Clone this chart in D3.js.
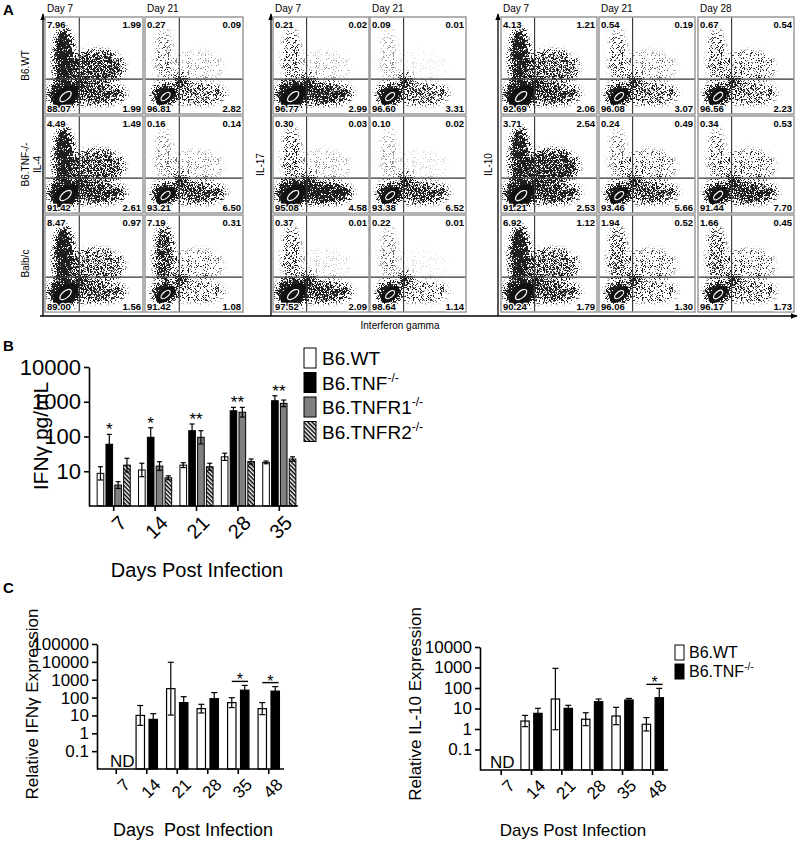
<!DOCTYPE html>
<html>
<head>
<meta charset="utf-8">
<script src="https://cdn.jsdelivr.net/npm/d3@7"></script>
<style>
body { margin: 0; background: #fff; }
text { font-family: Arial, "Liberation Sans", sans-serif; }
</style>
</head>
<body>
<script>
// ---------- data ----------
// panel A: flow plots, quadrant % as [UL, UR, LL, LR], rows = strains, cols = days
var strains = ["B6.WT", "B6.TNF-/-", "Balb/c"];
var il4Days = ["Day 7", "Day 21"];
var il17Days = ["Day 7", "Day 21"];
var il10Days = ["Day 7", "Day 21", "Day 28"];
var il4Quads = [
  [[7.96, 1.99, 88.07, 1.99], [0.27, 0.09, 96.81, 2.82]],
  [[4.49, 1.49, 91.42, 2.61], [0.16, 0.14, 93.21, 6.50]],
  [[8.47, 0.97, 89.00, 1.56], [7.19, 0.31, 91.42, 1.08]]
];
var il17Quads = [
  [[0.21, 0.02, 96.77, 2.99], [0.09, 0.01, 96.60, 3.31]],
  [[0.30, 0.03, 95.08, 4.58], [0.10, 0.02, 93.38, 6.52]],
  [[0.37, 0.01, 97.52, 2.09], [0.22, 0.01, 98.64, 1.14]]
];
var il10Quads = [
  [[4.13, 1.21, 92.69, 2.06], [0.54, 0.19, 96.08, 3.07], [0.67, 0.54, 96.56, 2.23]],
  [[3.71, 2.54, 91.21, 2.53], [0.24, 0.49, 93.46, 5.66], [0.34, 0.53, 91.44, 7.70]],
  [[6.92, 1.12, 90.24, 1.79], [1.94, 0.52, 96.06, 1.30], [1.66, 0.45, 96.17, 1.73]]
];
// how many events each day's plots show, relative to day 7
var dayEvents = {"Day 7": 1, "Day 21": 0.3, "Day 28": 0.35};

// panel B: IFNg pg/mL
var daysB = ["7", "14", "21", "28", "35"];
var seriesB = ["B6.WT", "B6.TNF", "B6.TNFR1", "B6.TNFR2"];
var ifngWT = [8.7, 10.9, 15, 26, 18];
var ifngWTErr = [13.5, 17, 17.6, 33, 19.7];
var ifngTNF = [60, 95, 147, 550, 1070];
var ifngTNFErr = [115, 179, 229, 690, 1490];
var ifngTNFR1 = [4.0, 14.1, 95, 500, 900];
var ifngTNFR1Err = [5, 18.8, 147, 690, 1120];
var ifngTNFR2 = [15, 6.5, 13.5, 19, 22.5];
var ifngTNFR2Err = [23.6, 7.4, 17, 22.5, 26];
var sigB = ["*", "*", "**", "**", "**"];

// panel C: relative expression (day 7 not detected)
var daysC = ["7", "14", "21", "28", "35", "48"];
var seriesC = ["B6.WT", "B6.TNF"];
var relIfngWT = [null, 10, 316, 24, 52, 24];
var relIfngWTErr = [null, 36, 9500, 42, 98, 52];
var relIfngTNF = [null, 6, 52, 87, 260, 230];
var relIfngTNFErr = [null, 12.6, 112, 190, 480, 410];
var sigIfng = ["", "", "", "", "*", "*"];
var relIl10WT = [null, 2.45, 29, 3, 4.3, 1.7];
var relIl10WTErr = [null, 4.6, 910, 6.2, 11.4, 3.6];
var relIl10TNF = [null, 5.8, 10.2, 21.5, 26, 33.7];
var relIl10TNFErr = [null, 10.2, 14.3, 29, 31, 96];
var sigIl10 = ["", "", "", "", "", "*"];

// ---------- svg ----------
var W = 800, H = 843;
var svg = d3.select("body").append("svg").attr("width", W).attr("height", H);
var defs = svg.append("defs");

defs.append("marker").attr("id", "arr")
  .attr("viewBox", "0 0 10 10").attr("refX", 9).attr("refY", 5)
  .attr("markerUnits", "userSpaceOnUse").attr("markerWidth", 7).attr("markerHeight", 7)
  .attr("orient", "auto")
  .append("path").attr("d", "M0,1L10,5L0,9z").attr("fill", "#000");

var hatch = defs.append("pattern").attr("id", "hatch")
  .attr("patternUnits", "userSpaceOnUse").attr("width", 3).attr("height", 3)
  .attr("patternTransform", "rotate(45)");
hatch.append("rect").attr("width", 3).attr("height", 3).attr("fill", "#fff");
hatch.append("rect").attr("width", 3).attr("height", 1.5).attr("fill", "#000");

// speckle filter: blurred shapes turn into fine dot clouds
var f = defs.append("filter").attr("id", "speck").attr("filterUnits", "userSpaceOnUse")
  .attr("x", -10).attr("y", -10).attr("width", 120).attr("height", 120)
  .attr("color-interpolation-filters", "sRGB");
f.append("feGaussianBlur").attr("in", "SourceGraphic").attr("stdDeviation", 3).attr("result", "blur");
f.append("feTurbulence").attr("type", "fractalNoise").attr("baseFrequency", 1.6)
  .attr("numOctaves", 1).attr("seed", 11).attr("result", "noise");
f.append("feColorMatrix").attr("in", "noise").attr("type", "matrix")
  .attr("values", "0 0 0 0 0  0 0 0 0 0  0 0 0 0 0  3 0 0 0 -1.1").attr("result", "na");
f.append("feComposite").attr("in", "blur").attr("in2", "na").attr("operator", "arithmetic")
  .attr("k1", 0).attr("k2", 1).attr("k3", -1).attr("k4", 0).attr("result", "diff");
f.append("feColorMatrix").attr("in", "diff").attr("type", "matrix")
  .attr("values", "0 0 0 0 0.12  0 0 0 0 0.12  0 0 0 0 0.12  0 0 0 7 0");

// ---------- panel A ----------
svg.append("text").text("A").attr("x", 3).attr("y", 15)
  .attr("font-size", 15).attr("font-weight", "bold");

var rowY = [17, 116, 215];
var plotH = 97;
var axisY = 316;
var gateX = 0.35, gateY = 0.64;
var pct = d3.format(".2f");
var opac = d3.scaleSqrt().domain([0, 5]).range([0, 1]).clamp(true);
var clipN = 0;

function drawPlot(x0, y0, w, h, q, ev) {
  var g = svg.append("g").attr("transform", "translate(" + x0 + "," + y0 + ")");
  var id = "clip" + (clipN++);
  defs.append("clipPath").attr("id", id).append("rect").attr("width", w).attr("height", h);
  var fx = d3.scaleLinear().range([0, w]);
  var fy = d3.scaleLinear().range([0, h]);

  var cl = g.append("g").attr("clip-path", "url(#" + id + ")")
    .append("g").attr("filter", "url(#speck)");
  // clouds: one per quadrant, density from the quadrant %
  var clouds = [
    {cx: 0.2, cy: 0.8, rx: 0.1 + 0.06 * ev, ry: 0.08 + 0.06 * ev, o: 1},
    {cx: 0.19, cy: 0.42, rx: 0.09, ry: 0.3, o: opac(q[0] * ev)},
    {cx: 0.52, cy: 0.79, rx: 0.3, ry: 0.1, o: opac(q[3] * ev)},
    {cx: 0.52, cy: 0.52, rx: 0.28, ry: 0.17, o: opac(q[1] * ev)},
    {cx: 0.36, cy: 0.66, rx: 0.06, ry: 0.06, o: 0.9}
  ];
  cl.selectAll("ellipse").data(clouds).enter().append("ellipse")
    .attr("cx", function(d) { return fx(d.cx); })
    .attr("cy", function(d) { return fy(d.cy); })
    .attr("rx", function(d) { return fx(d.rx); })
    .attr("ry", function(d) { return fy(d.ry); })
    .attr("fill", "#000").attr("fill-opacity", function(d) { return d.o; });

  // dense core with contour
  var cx = fx(0.21), cy = fy(0.82);
  var core = g.append("g").attr("transform", "translate(" + cx + "," + cy + ") rotate(-40)");
  core.append("ellipse").attr("rx", fx(0.1 + 0.05 * ev)).attr("ry", fy(0.05 + 0.04 * ev)).attr("fill", "#111");
  core.append("ellipse").attr("rx", fx(0.05 + 0.02 * ev)).attr("ry", fy(0.025 + 0.01 * ev))
    .attr("fill", "none").attr("stroke", "#fff").attr("stroke-width", 1.2);

  // gates + frame
  g.append("line").attr("x1", fx(gateX)).attr("x2", fx(gateX)).attr("y1", 0).attr("y2", h)
    .attr("stroke", "#333").attr("stroke-width", 1.1);
  g.append("line").attr("x1", 0).attr("x2", w).attr("y1", fy(gateY)).attr("y2", fy(gateY))
    .attr("stroke", "#333").attr("stroke-width", 1.1);
  g.append("rect").attr("width", w).attr("height", h)
    .attr("fill", "none").attr("stroke", "#999").attr("stroke-width", 1.5);

  var lab = [
    {v: q[0], x: 2, y: 11, a: "start"},
    {v: q[1], x: w - 2, y: 11, a: "end"},
    {v: q[2], x: 2, y: h - 2, a: "start"},
    {v: q[3], x: w - 2, y: h - 2, a: "end"}
  ];
  g.selectAll("text.q").data(lab).enter().append("text").attr("class", "q")
    .attr("x", function(d) { return d.x; }).attr("y", function(d) { return d.y; })
    .attr("text-anchor", function(d) { return d.a; })
    .attr("font-size", 9.5).attr("font-weight", "bold")
    .attr("stroke", "#fff").attr("stroke-width", 2.5).attr("paint-order", "stroke")
    .text(function(d) { return pct(d.v); });
}

function flowGroup(axisX, plotX, plotW, days, quads, cyto, cytoX) {
  svg.append("line").attr("x1", axisX).attr("x2", axisX).attr("y1", axisY).attr("y2", 14)
    .attr("stroke", "#000").attr("stroke-width", 1.3).attr("marker-end", "url(#arr)");
  svg.append("text").text(cyto)
    .attr("transform", "translate(" + cytoX + "," + (rowY[1] + plotH / 2) + ") rotate(-90)")
    .attr("text-anchor", "middle").attr("dy", "0.35em").attr("font-size", 10);
  days.forEach(function(day, c) {
    svg.append("text").text(day).attr("x", plotX[c] + 2).attr("y", 12).attr("font-size", 10);
    strains.forEach(function(s, r) {
      drawPlot(plotX[c], rowY[r], plotW, plotH, quads[r][c], dayEvents[day]);
    });
  });
}

flowGroup(43, [45, 145], 98, il4Days, il4Quads, "IL-4", 37);
flowGroup(271, [273, 370], 96, il17Days, il17Quads, "IL-17", 260);
flowGroup(498, [501, 599, 698], 96, il10Days, il10Quads, "IL-10", 488);

strains.forEach(function(s, r) {
  svg.append("text").text(s)
    .attr("transform", "translate(25," + (rowY[r] + plotH / 2) + ") rotate(-90)")
    .attr("text-anchor", "middle").attr("dy", "0.35em").attr("font-size", 10);
});
svg.append("line").attr("x1", 40).attr("x2", 797).attr("y1", axisY).attr("y2", axisY)
  .attr("stroke", "#000").attr("stroke-width", 1.3).attr("marker-end", "url(#arr)");
svg.append("text").text("Interferon gamma").attr("x", 400).attr("y", 329)
  .attr("text-anchor", "middle").attr("font-size", 10);

// ---------- bar helpers ----------
function errBar(g, x, mean, hi, y, base, cap) {
  var lo = mean * mean / hi;
  var y1 = Math.min(y(lo), base), y2 = y(hi);
  g.append("line").attr("x1", x).attr("x2", x).attr("y1", y1).attr("y2", y2)
    .attr("stroke", "#000").attr("stroke-width", 1.2);
  [y1, y2].forEach(function(yy) {
    if (yy < base - 1) {
      g.append("line").attr("x1", x - cap).attr("x2", x + cap).attr("y1", yy).attr("y2", yy)
        .attr("stroke", "#000").attr("stroke-width", 1.2);
    }
  });
}

function styleAxis(ax, size) {
  ax.selectAll("path,line").attr("stroke", "#000").attr("stroke-width", 1.6);
  ax.selectAll("text").attr("font-size", size).attr("fill", "#000")
    .style("font-family", "Arial, 'Liberation Sans', sans-serif");
}

function rotLabels(ax, dx) {
  ax.selectAll(".tick text")
    .attr("text-anchor", "end")
    .attr("transform", "translate(" + dx + ",4) rotate(-45)")
    .attr("dy", "0.6em").attr("dx", "0");
}

// ---------- panel B ----------
svg.append("text").text("B").attr("x", 3).attr("y", 351).attr("font-size", 15).attr("font-weight", "bold");
var gB = svg.append("g");
var yB = d3.scaleLog().domain([1, 10000]).range([506, 367]);
var xB = d3.scaleBand().domain(daysB).range([93, 300]).paddingInner(0.2).paddingOuter(0.1);
var xBs = d3.scaleBand().domain(seriesB).range([0, xB.bandwidth()]).paddingInner(0.25);
var valsB = [ifngWT, ifngTNF, ifngTNFR1, ifngTNFR2];
var errsB = [ifngWTErr, ifngTNFErr, ifngTNFR1Err, ifngTNFR2Err];
var fillsB = ["#fff", "#000", "#808080", "url(#hatch)"];
var baseB = yB.range()[0];

seriesB.forEach(function(s, i) {
  gB.selectAll(null).data(daysB).enter().append("rect")
    .attr("x", function(d) { return xB(d) + xBs(s); })
    .attr("y", function(d, j) { return yB(valsB[i][j]); })
    .attr("width", xBs.bandwidth())
    .attr("height", function(d, j) { return baseB - yB(valsB[i][j]); })
    .attr("fill", fillsB[i]).attr("stroke", "#000").attr("stroke-width", 1);
  daysB.forEach(function(d, j) {
    errBar(gB, xB(d) + xBs(s) + xBs.bandwidth() / 2, valsB[i][j], errsB[i][j], yB, baseB, 2.5);
  });
});
gB.selectAll("text.sig").data(daysB).enter().append("text").attr("class", "sig")
  .attr("x", function(d, j) { return xB(d) + xBs("B6.TNF") + xBs.bandwidth() / 2 + (sigB[j].length > 1 ? 4 : 0); })
  .attr("y", function(d, j) { return yB(ifngTNFErr[j]) + 1; })
  .attr("text-anchor", "middle").attr("font-size", 17)
  .text(function(d, j) { return sigB[j]; });

var axB = gB.append("g").attr("transform", "translate(89,0)")
  .call(d3.axisLeft(yB).tickValues([10, 100, 1000, 10000]).tickFormat(d3.format("d")).tickSize(5).tickSizeOuter(0));
styleAxis(axB, 22);
var axBx = gB.append("g").attr("transform", "translate(0," + baseB + ")")
  .call(d3.axisBottom(xB).tickSize(5).tickSizeOuter(0));
axBx.select(".domain").attr("d", "M89,0H298");
styleAxis(axBx, 20);
rotLabels(axBx, 0);
gB.append("text").text("IFNγ pg/mL")
  .attr("transform", "translate(41,436) rotate(-90)").attr("text-anchor", "middle")
  .attr("dy", "0.35em").attr("font-size", 21);
gB.append("text").text("Days Post Infection").attr("x", 197).attr("y", 577)
  .attr("text-anchor", "middle").attr("font-size", 20);

var legB = gB.selectAll("g.leg").data(seriesB).enter().append("g")
  .attr("transform", function(d, i) { return "translate(304," + (348 + i * 24.5) + ")"; });
legB.append("rect").attr("width", 12).attr("height", 20)
  .attr("fill", function(d, i) { return fillsB[i]; }).attr("stroke", "#000").attr("stroke-width", 1);
var legBt = legB.append("text").attr("x", 18).attr("y", 17).attr("font-size", 19);
legBt.append("tspan").text(function(d) { return d; });
legBt.filter(function(d, i) { return i > 0; }).append("tspan")
  .attr("font-size", 12).attr("dy", -8).text("-/-");

// ---------- panel C ----------
svg.append("text").text("C").attr("x", 3).attr("y", 593).attr("font-size", 15).attr("font-weight", "bold");

function tickFmt(d) { return d < 1 ? String(d) : d3.format("d")(d); }

function panelC(o) {
  var g = svg.append("g");
  var y = d3.scaleLog().domain(o.domain).range(o.range);
  var x = d3.scaleBand().domain(daysC).range(o.xr).paddingInner(0.3).paddingOuter(0.15);
  var xs = d3.scaleBand().domain(seriesC).range([0, x.bandwidth()]).paddingInner(0.35);
  var base = o.range[0];
  var vals = [o.wt, o.tnf], errs = [o.wtErr, o.tnfErr], fills = ["#fff", "#000"];
  seriesC.forEach(function(s, i) {
    var days = daysC.filter(function(d, j) { return vals[i][j] != null; });
    g.selectAll(null).data(days).enter().append("rect")
      .attr("x", function(d) { return x(d) + xs(s); })
      .attr("y", function(d) { return y(vals[i][daysC.indexOf(d)]); })
      .attr("width", xs.bandwidth())
      .attr("height", function(d) { return base - y(vals[i][daysC.indexOf(d)]); })
      .attr("fill", fills[i]).attr("stroke", "#000").attr("stroke-width", 1.2);
    days.forEach(function(d) {
      var j = daysC.indexOf(d);
      errBar(g, x(d) + xs(s) + xs.bandwidth() / 2, vals[i][j], errs[i][j], y, base, 3);
    });
  });
  // significance brackets
  daysC.forEach(function(d, j) {
    if (!o.sig[j]) return;
    var ly = y(Math.max(o.wtErr[j], o.tnfErr[j])) - 4;
    var x1 = x(d) + xs("B6.WT") + xs.bandwidth() / 2;
    var x2 = x(d) + xs("B6.TNF") + xs.bandwidth() * 0.9;
    g.append("line").attr("x1", x1).attr("x2", x2).attr("y1", ly).attr("y2", ly)
      .attr("stroke", "#000").attr("stroke-width", 1.4);
    g.append("text").text(o.sig[j]).attr("x", (x1 + x2) / 2).attr("y", ly + 4)
      .attr("text-anchor", "middle").attr("font-size", 16);
  });
  // not detected
  g.append("text").text("ND").attr("x", x("7") + x.bandwidth() / 2 + o.ndShift).attr("y", base - 2)
    .attr("text-anchor", "middle").attr("font-size", 17);

  var ay = g.append("g").attr("transform", "translate(" + o.axisX + ",0)")
    .call(d3.axisLeft(y).tickValues(o.ticks).tickFormat(tickFmt).tickSize(5).tickSizeOuter(0));
  styleAxis(ay, 17);
  var ax = g.append("g").attr("transform", "translate(0," + base + ")")
    .call(d3.axisBottom(x).tickSize(5).tickSizeOuter(0));
  ax.select(".domain").attr("d", "M" + o.axisX + ",0H" + o.xr[1]);
  styleAxis(ax, 17);
  rotLabels(ax, 2);
  g.append("text").text(o.title)
    .attr("transform", "translate(" + o.titleX + ",704) rotate(-90)").attr("text-anchor", "middle")
    .attr("dy", "0.35em").attr("font-size", 17);
  g.append("text").text(o.xTitle).attr("x", o.xTitleX).attr("y", 836)
    .attr("text-anchor", "middle").attr("font-size", o.xTitleSize).style("white-space", "pre");
  return g;
}

panelC({
  domain: [0.01, 100000], range: [769, 644], xr: [101, 284], axisX: 97,
  ticks: [0.1, 1, 10, 100, 1000, 10000, 100000],
  wt: relIfngWT, wtErr: relIfngWTErr, tnf: relIfngTNF, tnfErr: relIfngTNFErr, sig: sigIfng,
  title: "Relative IFNγ Expression", titleX: 32,
  xTitle: "Days  Post Infection", xTitleX: 193, xTitleSize: 18, ndShift: 6
});
var gC2 = panelC({
  domain: [0.01, 10000], range: [770, 647], xr: [486, 668], axisX: 480,
  ticks: [0.1, 1, 10, 100, 1000, 10000],
  wt: relIl10WT, wtErr: relIl10WTErr, tnf: relIl10TNF, tnfErr: relIl10TNFErr, sig: sigIl10,
  title: "Relative IL-10 Expression", titleX: 415,
  xTitle: "Days Post Infection", xTitleX: 573, xTitleSize: 17, ndShift: 1
});

var legC = gC2.selectAll("g.leg").data(seriesC).enter().append("g")
  .attr("transform", function(d, i) { return "translate(675," + (645 + i * 19) + ")"; });
legC.append("rect").attr("width", 9).attr("height", 15)
  .attr("fill", function(d, i) { return i ? "#000" : "#fff"; }).attr("stroke", "#000").attr("stroke-width", 1);
var legCt = legC.append("text").attr("x", 14).attr("y", 13).attr("font-size", 16);
legCt.append("tspan").text(function(d) { return d; });
legCt.filter(function(d, i) { return i > 0; }).append("tspan")
  .attr("font-size", 10).attr("dy", -7).text("-/-");
</script>
</body>
</html>
